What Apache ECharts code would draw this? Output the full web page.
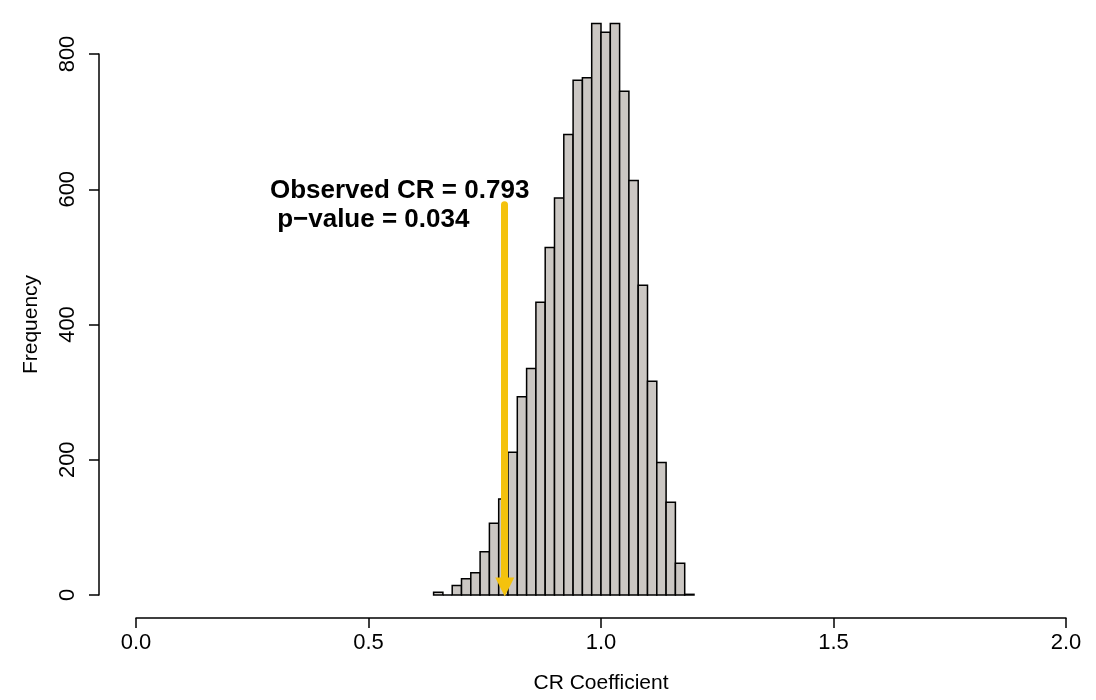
<!DOCTYPE html>
<html>
<head>
<meta charset="utf-8">
<script src="https://cdn.jsdelivr.net/npm/echarts@6/dist/echarts.min.js"></script>
<style>
html,body{margin:0;padding:0;background:#fff;}
#chart{width:1096px;height:700px;}
</style>
</head>
<body>
<div id="chart"></div>
<script>
// ---- data ----
const binStarts = [0.64,0.66,0.68,0.70,0.72,0.74,0.76,0.78,0.80,0.82,0.84,0.86,0.88,0.90,0.92,0.94,0.96,0.98,1.00,1.02,1.04,1.06,1.08,1.10,1.12,1.14,1.16,1.18];
const binWidth = 0.02;
const counts = [4,0,14,24,33,64,106,142,211,293,335,433,514,587,681,761,765,845,832,845,745,613,458,316,196,137,47,1];
const xTicks = [0.0, 0.5, 1.0, 1.5, 2.0];
const yTicks = [0, 200, 400, 600, 800];
const observedCR = 0.793;
const arrowTop = 577;
const arrowEnd = 12;
const annotLines = ['Observed CR = 0.793', ' p\u2212value = 0.034'];
const annotAnchor = [0.288, 576];
const xTitle = 'CR Coefficient';
const yTitle = 'Frequency';

const FONT = "'Liberation Sans', Arial, Helvetica, sans-serif";
const histData = binStarts.map((s, i) => [s, +(s + binWidth).toFixed(2), counts[i]]);

const chart = echarts.init(document.getElementById('chart'), null, {renderer: 'canvas'});
chart.setOption({
  backgroundColor: '#ffffff',
  animation: false,
  grid: {left: 136, right: 30, top: 54, bottom: 105},
  xAxis: {
    type: 'value', min: xTicks[0], max: xTicks[xTicks.length - 1], interval: 0.5,
    offset: 23,
    axisLine: {show: true, onZero: false, lineStyle: {color: '#000', width: 1.5}},
    axisTick: {show: true, length: 10, lineStyle: {color: '#000', width: 1.5}},
    axisLabel: {color: '#000', fontSize: 22, fontFamily: FONT, margin: 14,
      formatter: v => v.toFixed(1)},
    splitLine: {show: false},
    name: xTitle, nameLocation: 'middle', nameGap: 55,
    nameTextStyle: {color: '#000', fontSize: 21, fontFamily: FONT}
  },
  yAxis: {
    type: 'value', min: yTicks[0], max: yTicks[yTicks.length - 1], interval: 200,
    offset: 37,
    axisLine: {show: true, onZero: false, lineStyle: {color: '#000', width: 1.5}},
    axisTick: {show: true, length: 10, lineStyle: {color: '#000', width: 1.5}},
    axisLabel: {color: '#000', fontSize: 22, fontFamily: FONT, margin: 31, rotate: 90,
      verticalAlign: 'middle', align: 'center'},
    splitLine: {show: false},
    name: yTitle, nameLocation: 'middle', nameGap: 57, nameRotate: 90,
    nameTextStyle: {color: '#000', fontSize: 21, fontFamily: FONT}
  },
  series: [{
    type: 'custom',
    clip: false,
    data: histData,
    encode: {x: [0, 1], y: 2},
    renderItem: function (params, api) {
      const p0 = api.coord([api.value(0), api.value(2)]);
      const p1 = api.coord([api.value(1), 0]);
      return {
        type: 'rect',
        shape: {x: p0[0], y: p0[1], width: p1[0] - p0[0], height: p1[1] - p0[1]},
        style: {fill: '#cbc7c3', stroke: '#000', lineWidth: 1.5}
      };
    },
    z: 2
  }, {
    type: 'line',
    data: [],
    z: 5,
    markLine: {
      silent: true,
      symbol: ['none', 'triangle'],
      symbolSize: 19,
      lineStyle: {color: '#f4c20d', width: 7, type: 'solid', cap: 'round'},
      itemStyle: {color: '#f4c20d'},
      label: {show: false},
      data: [[{coord: [observedCR, arrowTop]}, {coord: [observedCR, arrowEnd]}]]
    },
    markPoint: {
      silent: true,
      symbol: 'circle', symbolSize: 0,
      data: [{coord: annotAnchor}],
      label: {
        show: true, position: 'right', distance: 0, align: 'left', verticalAlign: 'middle',
        formatter: annotLines.join('\n'),
        color: '#000', fontSize: 26, fontWeight: 'bold', fontFamily: FONT, lineHeight: 29
      }
    }
  }]
});
</script>
</body>
</html>
